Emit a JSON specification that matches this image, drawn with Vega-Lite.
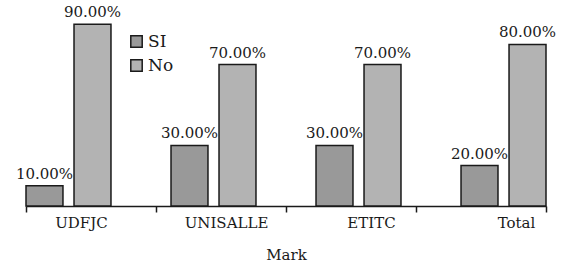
{
  "$schema": "https://vega.github.io/schema/vega-lite/v6.json",
  "width": 520,
  "height": 202,
  "autosize": {"type": "none"},
  "padding": {"left": 26, "top": 4, "right": 18, "bottom": 61},
  "background": "white",
  "config": {
    "view": {"stroke": null},
    "font": "DejaVu Serif"
  },
  "layer": [
    {
      "data": {
        "values": [
          {"Mark": "UDFJC", "g": "SI", "v": 0.10},
          {"Mark": "UDFJC", "g": "No", "v": 0.90},
          {"Mark": "UNISALLE", "g": "SI", "v": 0.30},
          {"Mark": "UNISALLE", "g": "No", "v": 0.70},
          {"Mark": "ETITC", "g": "SI", "v": 0.30},
          {"Mark": "ETITC", "g": "No", "v": 0.70},
          {"Mark": "Total", "g": "SI", "v": 0.20},
          {"Mark": "Total", "g": "No", "v": 0.80}
        ]
      },
      "encoding": {
        "x": {
          "field": "Mark",
          "type": "nominal",
          "sort": null,
          "scale": {"paddingInner": 0.414, "paddingOuter": 0},
          "axis": {
            "title": "Mark",
            "labelAngle": 0,
            "ticks": false,
            "domain": true,
            "domainColor": "#1a1a1a",
            "domainWidth": 1.5,
            "labelOffset": 13,
            "labelPadding": 9,
            "labelFont": "DejaVu Serif",
            "labelFontSize": 15,
            "labelColor": "#1a1a1a",
            "titleFont": "DejaVu Serif",
            "titleFontSize": 15,
            "titleFontWeight": "normal",
            "titleColor": "#1a1a1a",
            "titlePadding": 17
          }
        },
        "xOffset": {
          "field": "g",
          "type": "nominal",
          "sort": ["SI", "No"],
          "scale": {"paddingInner": 0.23, "paddingOuter": 0}
        },
        "y": {
          "field": "v",
          "type": "quantitative",
          "scale": {"domain": [0, 1]},
          "axis": null
        }
      },
      "layer": [
        {
          "mark": {"type": "bar", "stroke": "#1a1a1a", "strokeWidth": 1.5},
          "encoding": {
            "color": {
              "field": "g",
              "type": "nominal",
              "sort": ["SI", "No"],
              "scale": {"domain": ["SI", "No"], "range": ["#999999", "#b3b3b3"]},
              "legend": {
                "title": null,
                "orient": "none",
                "legendX": 102,
                "legendY": 29,
                "symbolType": "square",
                "symbolSize": 130,
                "symbolStrokeColor": "#1a1a1a",
                "symbolStrokeWidth": 1.5,
                "labelFont": "DejaVu Serif",
                "labelFontSize": 17,
                "labelColor": "#1a1a1a",
                "rowPadding": 5,
                "labelOffset": 3
              }
            }
          }
        },
        {
          "mark": {
            "type": "text",
            "baseline": "bottom",
            "dy": -4,
            "font": "DejaVu Serif",
            "fontSize": 15,
            "color": "#1a1a1a"
          },
          "encoding": {
            "text": {"field": "v", "type": "quantitative", "format": ".2%"}
          }
        }
      ]
    },
    {
      "data": {"values": [{"p": 0}, {"p": 4}]},
      "mark": {"type": "point", "opacity": 0},
      "encoding": {
        "x": {
          "field": "p",
          "type": "quantitative",
          "scale": {"domain": [0, 4], "nice": false, "zero": false},
          "axis": {
            "orient": "bottom",
            "values": [0, 1, 2, 3, 4],
            "labels": false,
            "domain": false,
            "grid": false,
            "ticks": true,
            "tickSize": 6,
            "tickWidth": 1.5,
            "tickColor": "#1a1a1a",
            "title": null
          }
        }
      }
    }
  ],
  "resolve": {"scale": {"x": "independent"}, "axis": {"x": "independent"}}
}
